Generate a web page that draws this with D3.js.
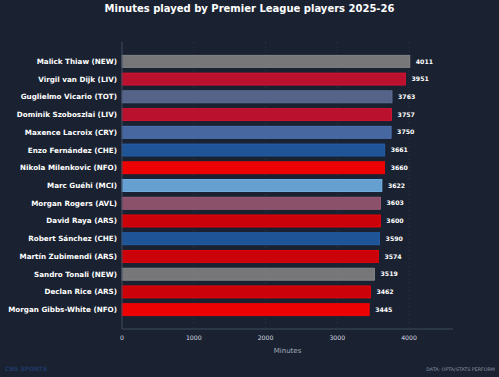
<!DOCTYPE html>
<html>
<head>
<meta charset="utf-8">
<script src="https://cdn.jsdelivr.net/npm/d3@7"></script>
<style>
  html, body { margin: 0; padding: 0; background: #1a2231; }
  svg { display: block; font-family: "DejaVu Sans", sans-serif; }
</style>
</head>
<body>
<div id="chart"></div>
<script>
const players = ["Malick Thiaw (NEW)", "Virgil van Dijk (LIV)", "Guglielmo Vicario (TOT)",
  "Dominik Szoboszlai (LIV)", "Maxence Lacroix (CRY)", "Enzo Fernández (CHE)",
  "Nikola Milenkovic (NFO)", "Marc Guéhi (MCI)", "Morgan Rogers (AVL)", "David Raya (ARS)",
  "Robert Sánchez (CHE)", "Martín Zubimendi (ARS)", "Sandro Tonali (NEW)", "Declan Rice (ARS)",
  "Morgan Gibbs-White (NFO)"];
const minutes = [4011, 3951, 3763, 3757, 3750, 3661, 3660, 3622, 3603, 3600, 3590, 3574, 3519, 3462, 3445];
const clubs = ["NEW", "LIV", "TOT", "LIV", "CRY", "CHE", "NFO", "MCI", "AVL", "ARS", "CHE", "ARS", "NEW", "ARS", "NFO"];
const clubColors = {
  NEW: "#7f7f7f", LIV: "#c8102e", TOT: "#5a6990", CRY: "#4a6ea9", CHE: "#1f5aa0",
  NFO: "#ff0000", MCI: "#6cabdd", AVL: "#955670", ARS: "#db0007"
};
const ticks = [0, 1000, 2000, 3000, 4000];

const data = players.map((p, i) => ({ name: p, value: minutes[i], club: clubs[i] }));

const W = 499, H = 377;
const margin = {top: 42, right: 46, bottom: 48, left: 122};
const width = W - margin.left - margin.right;
const height = H - margin.top - margin.bottom;

const svg = d3.select("#chart")
  .append("svg")
  .attr("width", W)
  .attr("height", H);

svg.append("rect").attr("width", W).attr("height", H).attr("fill", "#1a2231");

svg.append("text")
  .attr("x", W / 2)
  .attr("y", 12)
  .attr("text-anchor", "middle")
  .attr("fill", "#ffffff")
  .attr("font-weight", "bold")
  .attr("font-size", 10)
  .text("Minutes played by Premier League players 2025-26");

const g = svg.append("g").attr("transform", `translate(${margin.left},${margin.top})`);

const x = d3.scaleLinear().domain([0, d3.max(minutes) * 1.15]).range([0, width]);
const y = d3.scaleBand().domain(players).range([0, height]).paddingInner(0.32).paddingOuter(0.75);

// grid
g.selectAll("line.grid")
  .data(ticks)
  .enter()
  .append("line")
  .attr("class", "grid")
  .attr("x1", d => x(d)).attr("x2", d => x(d))
  .attr("y1", 0).attr("y2", height)
  .attr("stroke", "#3a4558")
  .attr("stroke-dasharray", "2,2")
  .attr("stroke-width", 0.6)
  .attr("opacity", 0.6);

// bars
g.selectAll("rect.bar")
  .data(data)
  .enter()
  .append("rect")
  .attr("class", "bar")
  .attr("x", x(0))
  .attr("y", d => y(d.name))
  .attr("width", d => x(d.value))
  .attr("height", y.bandwidth())
  .attr("fill", d => clubColors[d.club])
  .attr("fill-opacity", 0.92)
  .attr("stroke", d => d3.color(clubColors[d.club]).brighter(0.3))
  .attr("stroke-width", 0.8);

// value labels
g.selectAll("text.val")
  .data(data)
  .enter()
  .append("text")
  .attr("class", "val")
  .attr("x", d => x(d.value) + 6)
  .attr("y", d => y(d.name) + y.bandwidth() / 2)
  .attr("dy", "0.35em")
  .attr("fill", "#ffffff")
  .attr("font-weight", "bold")
  .attr("font-size", 6.2)
  .text(d => d.value);

// player labels
g.selectAll("text.name")
  .data(data)
  .enter()
  .append("text")
  .attr("class", "name")
  .attr("x", -5)
  .attr("y", d => y(d.name) + y.bandwidth() / 2)
  .attr("dy", "0.35em")
  .attr("text-anchor", "end")
  .attr("fill", "#ffffff")
  .attr("font-weight", "bold")
  .attr("font-size", 7.2)
  .text(d => d.name);

// axes lines
g.append("line")
  .attr("x1", 0).attr("x2", 0).attr("y1", 0).attr("y2", height)
  .attr("stroke", "#3d4a5e").attr("stroke-width", 1);
g.append("line")
  .attr("x1", 0).attr("x2", width).attr("y1", height).attr("y2", height)
  .attr("stroke", "#3d4a5e").attr("stroke-width", 1);

// x tick labels
g.selectAll("text.tick")
  .data(ticks)
  .enter()
  .append("text")
  .attr("class", "tick")
  .attr("x", d => x(d))
  .attr("y", height + 11)
  .attr("text-anchor", "middle")
  .attr("fill", "#d4d8e0")
  .attr("font-size", 6.2)
  .text(d => d);

g.append("text")
  .attr("x", width / 2)
  .attr("y", height + 24)
  .attr("text-anchor", "middle")
  .attr("fill", "#a3abbb")
  .attr("font-size", 7)
  .text("Minutes");

svg.append("text")
  .attr("x", 495)
  .attr("y", 371)
  .attr("text-anchor", "end")
  .attr("fill", "#8a93a5")
  .attr("font-size", 4.8)
  .text("DATA: OPTA/STATS PERFORM");

svg.append("text")
  .attr("x", 5)
  .attr("y", 371)
  .attr("fill", "#1f3866")
  .attr("font-weight", "bold")
  .attr("font-size", 6)
  .text("CBS SPORTS");
</script>
</body>
</html>
